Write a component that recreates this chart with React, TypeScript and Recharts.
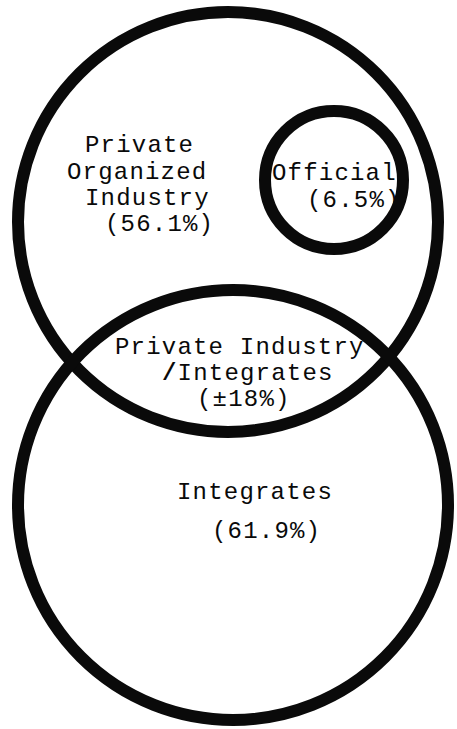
import { ScatterChart, Scatter, XAxis, YAxis } from 'recharts'

const CHART_W = 457
const CHART_H = 729
const INK = '#0a0a0a'

// circles (data units = page pixels, y grows downward)
const circleNames = ['Private Organized Industry', 'Integrates', 'Official']
const circleX = [228, 233, 334]
const circleY = [222, 505, 180]
const circleR = [210, 215, 69]

// labels, baseline positions
const labelText = [
    'Private', 'Organized', 'Industry', '(56.1%)',
    'Official', '(6.5%)',
    'Private Industry', '/Integrates', '(\u00b118%)',
    'Integrates', '(61.9%)',
]
const labelX = [85, 67, 85, 105, 272, 307, 115, 162, 197, 177, 212]
const labelY = [152, 179, 205, 231, 180, 207, 354, 380, 406, 499, 538]

const circles = circleNames.map((name, i) => ({ name, x: circleX[i], y: circleY[i], r: circleR[i] }))
const labels = labelText.map((text, i) => ({ text, x: labelX[i], y: labelY[i] }))

const pxPerUnit = CHART_W / CHART_W
const FONT = "'Liberation Mono', 'Courier New', monospace"

const CircleShape = (props: any) => {
    const { cx, cy, payload } = props
    return <circle cx={cx} cy={cy} r={payload.r * pxPerUnit} fill="none" stroke={INK} strokeWidth={12} />
}

const LabelShape = (props: any) => {
    const { cx, cy, payload } = props
    const t: string = payload.text
    if (t.startsWith('/')) {
        return (
            <text x={cx} y={cy} fontFamily={FONT} fontSize={24} letterSpacing={1.2} fill={INK}>
                <tspan fontWeight="bold">/</tspan>
                <tspan>{t.slice(1)}</tspan>
            </text>
        )
    }
    return (
        <text x={cx} y={cy} fontFamily={FONT} fontSize={24} letterSpacing={1.2} fill={INK}>
            {t}
        </text>
    )
}

export default function App() {
    return (
        <div style={{ position: 'absolute', left: 0, top: 0, width: CHART_W, height: CHART_H, background: '#fff' }}>
            <ScatterChart width={CHART_W} height={CHART_H} margin={{ top: 0, right: 0, bottom: 0, left: 0 }}>
                <XAxis type="number" dataKey="x" domain={[0, CHART_W]} hide />
                <YAxis type="number" dataKey="y" domain={[0, CHART_H]} reversed hide />
                <Scatter data={circles} shape={CircleShape} isAnimationActive={false} />
                <Scatter data={labels} shape={LabelShape} isAnimationActive={false} />
            </ScatterChart>
        </div>
    )
}
